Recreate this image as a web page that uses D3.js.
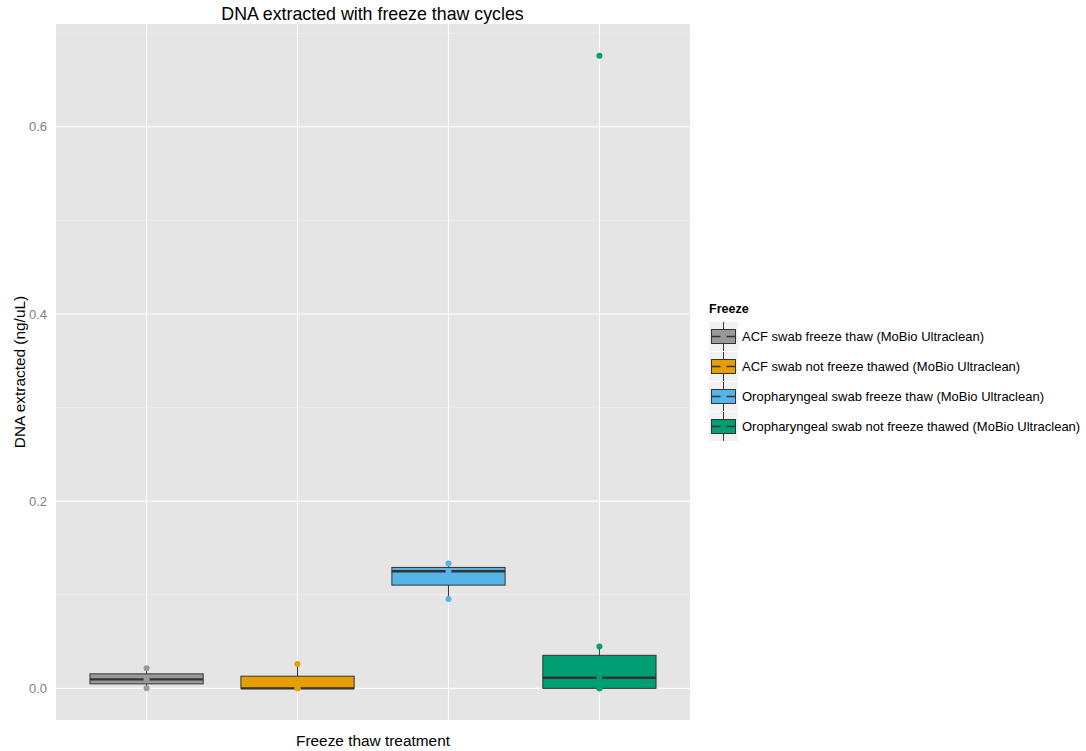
<!DOCTYPE html>
<html>
<head>
<meta charset="utf-8">
<script src="https://cdn.jsdelivr.net/npm/d3@7"></script>
<style>
  body { margin: 0; background: #fff; }
  svg { display: block; font-family: "Liberation Sans", Arial, Helvetica, sans-serif; }
</style>
</head>
<body>
<svg id="chart" width="1086" height="751"></svg>
<script>
// Treatment groups (x categories and legend entries)
const groups = [
  "ACF swab freeze thaw (MoBio Ultraclean)",
  "ACF swab not freeze thawed (MoBio Ultraclean)",
  "Oropharyngeal swab freeze thaw (MoBio Ultraclean)",
  "Oropharyngeal swab not freeze thawed (MoBio Ultraclean)"
];
const groupColors = ["#999999", "#E69F00", "#56B4E9", "#009E73"];

// DNA concentration per sample (ng/uL), one array per group
const acfFreezeThaw = [0, 0.0096, 0.0214];
const acfNotThawed = [0, 0, 0.026];
const oroFreezeThaw = [0.0955, 0.1251, 0.1333];
const oroNotThawed = [0, 0, 0, 0.0114, 0.026, 0.0446, 0.676];
const samples = [acfFreezeThaw, acfNotThawed, oroFreezeThaw, oroNotThawed];

const yTicks = [0.0, 0.2, 0.4, 0.6];
const yMinor = [0.1, 0.3, 0.5, 0.7];

const svg = d3.select("#chart");
const panel = { left: 56, right: 690, top: 24, bottom: 720 };

// Continuous y with 5% padding on each side of the data range
const allVals = samples.flat();
const yMin = d3.min(allVals), yMax = d3.max(allVals);
const pad = (yMax - yMin) * 0.05;
const y = d3.scaleLinear().domain([yMin - pad, yMax + pad]).range([panel.bottom, panel.top]);

// Discrete x positions 1..n with 0.6 padding
const x = d3.scaleLinear().domain([0.4, groups.length + 0.6]).range([panel.left, panel.right]);
const unit = x(2) - x(1);
const boxW = unit * 0.75;

// Panel background and grid
svg.append("rect")
  .attr("x", panel.left).attr("y", panel.top)
  .attr("width", panel.right - panel.left).attr("height", panel.bottom - panel.top)
  .attr("fill", "#E5E5E5");

const grid = svg.append("g");
grid.selectAll(".minor").data(yMinor).join("line")
  .attr("x1", panel.left).attr("x2", panel.right)
  .attr("y1", d => y(d)).attr("y2", d => y(d))
  .attr("stroke", "#F2F2F2").attr("stroke-width", 0.8);
grid.selectAll(".major").data(yTicks).join("line")
  .attr("x1", panel.left).attr("x2", panel.right)
  .attr("y1", d => y(d)).attr("y2", d => y(d))
  .attr("stroke", "#FFFFFF").attr("stroke-width", 1.1);
grid.selectAll(".vmajor").data(groups.map((g, i) => i + 1)).join("line")
  .attr("y1", panel.top).attr("y2", panel.bottom)
  .attr("x1", d => x(d)).attr("x2", d => x(d))
  .attr("stroke", "#FFFFFF").attr("stroke-width", 1.1);

// Y axis tick labels
const yAxis = d3.axisLeft(y).tickValues(yTicks).tickFormat(d3.format(".1f")).tickSize(0).tickPadding(9);
const yAxisG = svg.append("g").attr("transform", `translate(${panel.left},0)`).call(yAxis);
yAxisG.select(".domain").remove();
yAxisG.selectAll("text").attr("fill", "#7F7F7F").style("font-size", "13px")
  .style("font-family", "'Liberation Sans', Arial, sans-serif");

// Box statistics (quantile type 7 as in R)
function stats(vals) {
  const s = vals.slice().sort(d3.ascending);
  const q1 = d3.quantileSorted(s, 0.25), med = d3.quantileSorted(s, 0.5), q3 = d3.quantileSorted(s, 0.75);
  const iqr = q3 - q1;
  const lo = d3.min(s.filter(v => v >= q1 - 1.5 * iqr));
  const hi = d3.max(s.filter(v => v <= q3 + 1.5 * iqr));
  return { q1, med, q3, lo, hi };
}

const boxes = svg.append("g");
samples.forEach((vals, i) => {
  const st = stats(vals);
  const cx = x(i + 1);
  const g = boxes.append("g");
  g.append("line").attr("x1", cx).attr("x2", cx).attr("y1", y(st.q3)).attr("y2", y(st.hi))
    .attr("stroke", "#333333").attr("stroke-width", 1);
  g.append("line").attr("x1", cx).attr("x2", cx).attr("y1", y(st.q1)).attr("y2", y(st.lo))
    .attr("stroke", "#333333").attr("stroke-width", 1);
  g.append("rect")
    .attr("x", cx - boxW / 2).attr("width", boxW)
    .attr("y", y(st.q3)).attr("height", Math.max(0, y(st.q1) - y(st.q3)))
    .attr("fill", groupColors[i]).attr("stroke", "#333333").attr("stroke-width", 1);
  g.append("line").attr("x1", cx - boxW / 2).attr("x2", cx + boxW / 2)
    .attr("y1", y(st.med)).attr("y2", y(st.med))
    .attr("stroke", "#333333").attr("stroke-width", 2.4);
});

// Individual samples
const pts = svg.append("g");
samples.forEach((vals, i) => {
  pts.selectAll(null).data(vals).join("circle")
    .attr("cx", x(i + 1)).attr("cy", d => y(d)).attr("r", 3)
    .attr("fill", groupColors[i]);
});

// Titles
svg.append("text").attr("x", (panel.left + panel.right) / 2 - 0.5).attr("y", 19.5)
  .attr("text-anchor", "middle").style("font-size", "17.8px").attr("fill", "#000")
  .text("DNA extracted with freeze thaw cycles");
svg.append("text").attr("x", (panel.left + panel.right) / 2).attr("y", 746)
  .attr("text-anchor", "middle").style("font-size", "15.4px").attr("fill", "#000")
  .text("Freeze thaw treatment");
svg.append("text")
  .attr("transform", `translate(25,${(panel.top + panel.bottom) / 2}) rotate(-90)`)
  .attr("text-anchor", "middle").style("font-size", "15.4px").attr("fill", "#000")
  .text("DNA extracted (ng/uL)");

// Legend
const leg = svg.append("g").attr("transform", "translate(709,0)");
leg.append("text").attr("x", 0).attr("y", 312.5).style("font-size", "12.5px").style("font-weight", "bold")
  .text("Freeze");
const keySize = 29;
groups.forEach((name, i) => {
  const top = 322 + i * 30;
  const cy = top + keySize / 2;
  const k = leg.append("g");
  k.append("rect").attr("x", 0).attr("y", top).attr("width", keySize).attr("height", keySize).attr("fill", "#F2F2F2");
  k.append("line").attr("x1", keySize / 2).attr("x2", keySize / 2).attr("y1", top).attr("y2", top + keySize)
    .attr("stroke", "#333333").attr("stroke-width", 1);
  k.append("rect").attr("x", 2.5).attr("y", cy - 7).attr("width", keySize - 5).attr("height", 14)
    .attr("fill", groupColors[i]).attr("stroke", "#333333").attr("stroke-width", 1);
  k.append("line").attr("x1", 2.5).attr("x2", keySize - 2.5).attr("y1", cy).attr("y2", cy)
    .attr("stroke", "#333333").attr("stroke-width", 1.5);
  k.append("circle").attr("cx", keySize / 2).attr("cy", cy).attr("r", 3).attr("fill", groupColors[i]);
  k.append("text").attr("x", 33).attr("y", cy + 4.8).style("font-size", "13px").attr("fill", "#000").text(name);
});
</script>
</body>
</html>
